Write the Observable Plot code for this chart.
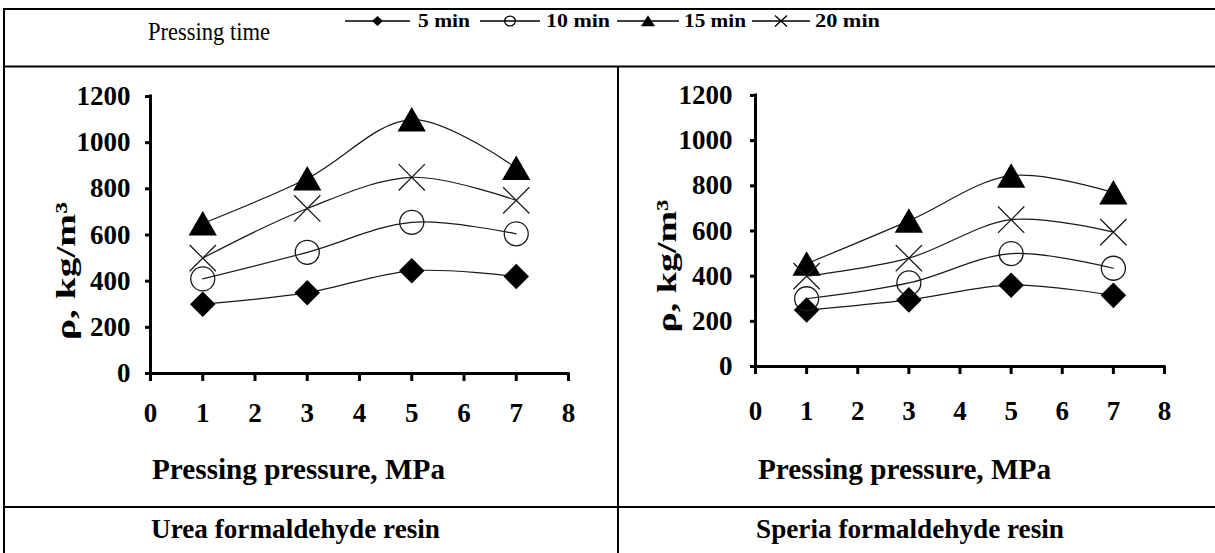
<!DOCTYPE html>
<html><head><meta charset="utf-8">
<script src="https://cdn.jsdelivr.net/npm/d3@7"></script>
<script src="https://cdn.jsdelivr.net/npm/@observablehq/plot@0.6"></script>
<style>
html,body{margin:0;padding:0;background:#fff;}
#page{position:relative;width:1215px;height:553px;overflow:hidden;background:#fff;}
#page > svg{position:absolute;}
</style></head><body><div id="page"></div>
<script>
// ---- data ----
const pressure = [1, 3, 5, 7];
const xTicks = [0, 1, 2, 3, 4, 5, 6, 7, 8];
const yTicks = [0, 200, 400, 600, 800, 1000, 1200];
const seriesNames = ["5 min", "10 min", "15 min", "20 min"];
const urea5  = [300, 350, 445, 420];
const urea10 = [410, 525, 655, 605];
const urea15 = [650, 845, 1100, 890];
const urea20 = [500, 715, 850, 750];
const speria5  = [250, 295, 360, 315];
const speria10 = [300, 370, 500, 435];
const speria15 = [455, 645, 845, 770];
const speria20 = [400, 480, 650, 595];
const legendTitle = "Pressing time";
const yTitle = "ρ, kg/m³";
const xTitle = "Pressing pressure, MPa";
const panelTitles = ["Urea formaldehyde resin", "Speria formaldehyde resin"];

const FONT = '"Liberation Serif","Times New Roman",Times,serif';
const INK = "#1a1a1a";
const markerStyles = [
  {symbol: "diamond2", r: 11.5, fill: "#000", stroke: "none"},
  {symbol: "circle", r: 12, fill: "none", stroke: INK, strokeWidth: 1.3},
  {symbol: "triangle", r: 10.5, fill: "#000", stroke: "none", dy: 3.8},
  {symbol: "times", r: 12, fill: "none", stroke: INK, strokeWidth: 1.3}
];

function makeChart(series, o) {
  const marks = [];
  series.forEach(vals => {
    const rows = pressure.map((p, i) => ({p, v: vals[i]}));
    marks.push(Plot.line(rows, {x: "p", y: "v", curve: "catmull-rom", stroke: INK, strokeWidth: 1.2}));
  });
  series.forEach((vals, k) => {
    const rows = pressure.map((p, i) => ({p, v: vals[i]}));
    marks.push(Plot.dot(rows, {x: "p", y: "v", ...markerStyles[k]}));
  });
  marks.push(Plot.ruleX([0], {stroke: "#000", strokeWidth: 3, strokeLinecap: "square"}));
  marks.push(Plot.ruleY([0], {stroke: "#000", strokeWidth: 3, strokeLinecap: "square"}));
  marks.push(Plot.axisX({ticks: xTicks, tickSize: 8, tickPadding: o.xPad, fontSize: 27, fontWeight: "bold",
    stroke: "#000", strokeWidth: 3, fill: "#000", label: null, tickFormat: d => String(d)}));
  marks.push(Plot.axisY({ticks: yTicks, tickSize: 5, tickPadding: o.yPad, fontSize: 27, fontWeight: "bold",
    stroke: "#000", strokeWidth: 3, fill: "#000", label: null, tickFormat: d => String(d)}));
  const svg = Plot.plot({
    width: o.width, height: o.height,
    marginLeft: o.ml, marginRight: o.mr, marginTop: o.mt, marginBottom: o.mb,
    x: {domain: [0, 8], label: null},
    y: {domain: [0, 1200], label: null},
    style: {background: "transparent", fontFamily: FONT, fontWeight: "bold", fontSize: "27px", color: "#000", overflow: "visible"},
    marks
  });
  svg.style.left = o.left + "px";
  svg.style.top = o.top + "px";
  return svg;
}

const page = document.getElementById("page");
page.appendChild(makeChart([urea5, urea10, urea15, urea20],
  {left: 10, top: 68, width: 608, height: 380, ml: 140, mr: 50, mt: 28, mb: 75, xPad: 21, yPad: 15}));
page.appendChild(makeChart([speria5, speria10, speria15, speria20],
  {left: 620, top: 68, width: 595, height: 380, ml: 135, mr: 51, mt: 27, mb: 82, xPad: 26, yPad: 18}));

// ---- overlay: table lines, legend, titles ----
const ov = d3.select(page).append("svg").attr("width", 1215).attr("height", 553)
  .style("left", "0px").style("top", "0px").style("font-family", FONT);
const hl = (y, x1, x2) => ov.append("line").attr("x1", x1).attr("x2", x2).attr("y1", y).attr("y2", y).attr("stroke", "#000").attr("stroke-width", 2);
const vl = (x, y1, y2) => ov.append("line").attr("x1", x).attr("x2", x).attr("y1", y1).attr("y2", y2).attr("stroke", "#000").attr("stroke-width", 2);
hl(9, 3, 1215); hl(66.5, 3, 1215); hl(507, 3, 1215);
vl(4, 8, 553); vl(618, 66, 553);

const txt = (s, x, y, size, weight, len, anchor = "start") => ov.append("text").text(s)
  .attr("x", x).attr("y", y).attr("font-size", size).attr("font-weight", weight)
  .attr("text-anchor", anchor).attr("textLength", len).attr("lengthAdjust", "spacingAndGlyphs").attr("fill", "#000");

txt(legendTitle, 148, 40, 26, "normal", 122);
const legendPos = [
  {lx: 345, lw: 65, tx: 418, tl: 52},
  {lx: 480, lw: 60, tx: 546, tl: 64},
  {lx: 617, lw: 62, tx: 684, tl: 62},
  {lx: 752, lw: 58, tx: 815, tl: 65}
];
const legSym = [
  {type: d3.symbolDiamond2, size: 65, fill: "#000", stroke: "none"},
  {type: d3.symbolCircle, size: 75, fill: "none", stroke: "#000"},
  {type: d3.symbolTriangle, size: 70, fill: "#000", stroke: "none"},
  {type: d3.symbolTimes, size: 80, fill: "none", stroke: "#000"}
];
seriesNames.forEach((name, k) => {
  const p = legendPos[k];
  ov.append("line").attr("x1", p.lx).attr("x2", p.lx + p.lw).attr("y1", 21).attr("y2", 21).attr("stroke", "#000").attr("stroke-width", 1.5);
  ov.append("path").attr("d", d3.symbol(legSym[k].type, legSym[k].size)())
    .attr("transform", `translate(${p.lx + p.lw / 2},${k === 2 ? 22.5 : 21}) scale(1.1,1)`)
    .attr("fill", legSym[k].fill).attr("stroke", legSym[k].stroke).attr("stroke-width", 1.2);
  txt(name, p.tx, 27, 18, "bold", p.tl);
});

txt(xTitle, 152, 479, 30, "bold", 293);
txt(xTitle, 758, 479, 30, "bold", 293);
txt(panelTitles[0], 151, 538, 28, "bold", 289);
txt(panelTitles[1], 756, 538, 28, "bold", 308);

ov.append("text").text(yTitle).attr("transform", "translate(75,271) rotate(-90)")
  .attr("text-anchor", "middle").attr("font-size", 28).attr("font-weight", "bold")
  .attr("textLength", 138).attr("lengthAdjust", "spacingAndGlyphs");
ov.append("text").text(yTitle).attr("transform", "translate(676,266) rotate(-90)")
  .attr("text-anchor", "middle").attr("font-size", 28).attr("font-weight", "bold")
  .attr("textLength", 133).attr("lengthAdjust", "spacingAndGlyphs");
</script></body></html>
